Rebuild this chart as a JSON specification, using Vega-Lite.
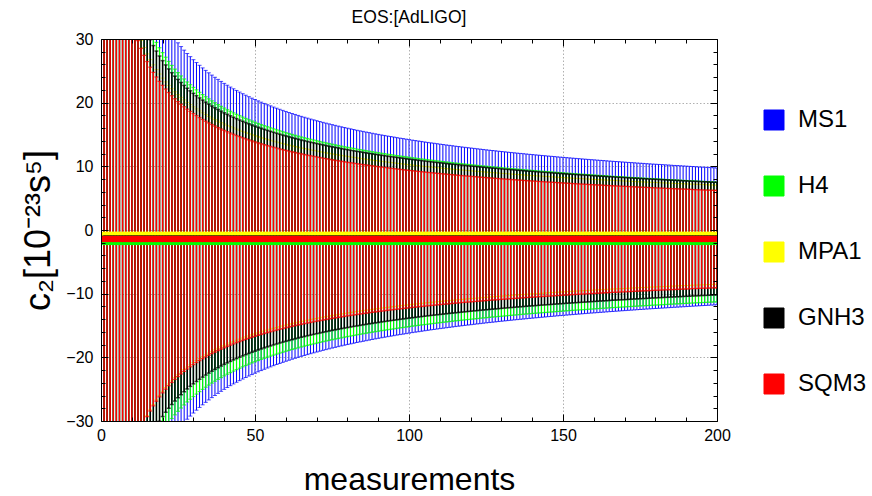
{
"$schema":"https://vega.github.io/schema/vega-lite/v6.json",
"width":616,"height":382,"autosize":"none",
"padding":{"left":101,"top":39,"right":155,"bottom":75},
"title":{"text":"EOS:[AdLIGO]","fontSize":17.5,"font":"Liberation Sans","fontWeight":"normal","color":"black","offset":5,"anchor":"middle"},
"config":{"view":{"stroke":null},"axis":{"labelFont":"Liberation Sans","titleFont":"Liberation Sans","labelColor":"black","titleColor":"black","tickColor":"black","domainColor":"black","titleFontWeight":"normal","labelFlush":false}},
"datasets":{
"ctr":[{"eos":"MS1","c":-1.0,"k":1},{"eos":"H4","c":-1.88,"k":2},{"eos":"MPA1","c":-0.74,"k":3},{"eos":"GNH3","c":-1.35,"k":4},{"eos":"SQM3","c":-1.43,"k":5}],
"w":[
{"n":1,"MS1":152,"H4":133,"MPA1":110,"GNH3":125,"SQM3":108},
{"n":2,"MS1":107.48,"H4":94.05,"MPA1":77.78,"GNH3":88.39,"SQM3":76.37},
{"n":3,"MS1":87.76,"H4":76.79,"MPA1":63.51,"GNH3":72.17,"SQM3":62.35},
{"n":4,"MS1":76,"H4":66.5,"MPA1":55,"GNH3":62.5,"SQM3":54},
{"n":5,"MS1":67.98,"H4":59.48,"MPA1":49.19,"GNH3":55.9,"SQM3":48.3},
{"n":6,"MS1":62.05,"H4":54.3,"MPA1":44.91,"GNH3":51.03,"SQM3":44.09},
{"n":7,"MS1":57.45,"H4":50.27,"MPA1":41.58,"GNH3":47.25,"SQM3":40.82},
{"n":8,"MS1":53.74,"H4":47.02,"MPA1":38.89,"GNH3":44.19,"SQM3":38.18},
{"n":9,"MS1":50.67,"H4":44.33,"MPA1":36.67,"GNH3":41.67,"SQM3":36},
{"n":10,"MS1":48.07,"H4":42.06,"MPA1":34.79,"GNH3":39.53,"SQM3":34.15},
{"n":11,"MS1":45.83,"H4":40.1,"MPA1":33.17,"GNH3":37.69,"SQM3":32.56},
{"n":12,"MS1":43.88,"H4":38.39,"MPA1":31.75,"GNH3":36.08,"SQM3":31.18},
{"n":13,"MS1":42.16,"H4":36.89,"MPA1":30.51,"GNH3":34.67,"SQM3":29.95},
{"n":14,"MS1":40.62,"H4":35.55,"MPA1":29.4,"GNH3":33.41,"SQM3":28.86},
{"n":15,"MS1":39.25,"H4":34.34,"MPA1":28.4,"GNH3":32.27,"SQM3":27.89},
{"n":16,"MS1":38,"H4":33.25,"MPA1":27.5,"GNH3":31.25,"SQM3":27},
{"n":17,"MS1":36.87,"H4":32.26,"MPA1":26.68,"GNH3":30.32,"SQM3":26.19},
{"n":18,"MS1":35.83,"H4":31.35,"MPA1":25.93,"GNH3":29.46,"SQM3":25.46},
{"n":19,"MS1":34.87,"H4":30.51,"MPA1":25.24,"GNH3":28.68,"SQM3":24.78},
{"n":20,"MS1":33.99,"H4":29.74,"MPA1":24.6,"GNH3":27.95,"SQM3":24.15},
{"n":21,"MS1":33.17,"H4":29.02,"MPA1":24,"GNH3":27.28,"SQM3":23.57},
{"n":22,"MS1":32.41,"H4":28.36,"MPA1":23.45,"GNH3":26.65,"SQM3":23.03},
{"n":23,"MS1":31.69,"H4":27.73,"MPA1":22.94,"GNH3":26.06,"SQM3":22.52},
{"n":24,"MS1":31.03,"H4":27.15,"MPA1":22.45,"GNH3":25.52,"SQM3":22.04},
{"n":25,"MS1":30.4,"H4":26.6,"MPA1":22,"GNH3":25,"SQM3":21.6},
{"n":26,"MS1":29.81,"H4":26.08,"MPA1":21.57,"GNH3":24.52,"SQM3":21.18},
{"n":27,"MS1":29.25,"H4":25.6,"MPA1":21.17,"GNH3":24.06,"SQM3":20.78},
{"n":28,"MS1":28.72,"H4":25.13,"MPA1":20.79,"GNH3":23.62,"SQM3":20.41},
{"n":29,"MS1":28.23,"H4":24.7,"MPA1":20.43,"GNH3":23.21,"SQM3":20.06},
{"n":30,"MS1":27.75,"H4":24.28,"MPA1":20.08,"GNH3":22.82,"SQM3":19.72},
{"n":31,"MS1":27.3,"H4":23.89,"MPA1":19.76,"GNH3":22.45,"SQM3":19.4},
{"n":32,"MS1":26.87,"H4":23.51,"MPA1":19.45,"GNH3":22.1,"SQM3":19.09},
{"n":33,"MS1":26.46,"H4":23.15,"MPA1":19.15,"GNH3":21.76,"SQM3":18.8},
{"n":34,"MS1":26.07,"H4":22.81,"MPA1":18.87,"GNH3":21.44,"SQM3":18.52},
{"n":35,"MS1":25.69,"H4":22.48,"MPA1":18.59,"GNH3":21.13,"SQM3":18.26},
{"n":36,"MS1":25.33,"H4":22.17,"MPA1":18.33,"GNH3":20.83,"SQM3":18},
{"n":37,"MS1":24.99,"H4":21.87,"MPA1":18.08,"GNH3":20.55,"SQM3":17.76},
{"n":38,"MS1":24.66,"H4":21.58,"MPA1":17.84,"GNH3":20.28,"SQM3":17.52},
{"n":39,"MS1":24.34,"H4":21.3,"MPA1":17.61,"GNH3":20.02,"SQM3":17.29},
{"n":40,"MS1":24.03,"H4":21.03,"MPA1":17.39,"GNH3":19.76,"SQM3":17.08},
{"n":41,"MS1":23.74,"H4":20.77,"MPA1":17.18,"GNH3":19.52,"SQM3":16.87},
{"n":42,"MS1":23.45,"H4":20.52,"MPA1":16.97,"GNH3":19.29,"SQM3":16.66},
{"n":43,"MS1":23.18,"H4":20.28,"MPA1":16.78,"GNH3":19.06,"SQM3":16.47},
{"n":44,"MS1":22.92,"H4":20.05,"MPA1":16.58,"GNH3":18.85,"SQM3":16.28},
{"n":45,"MS1":22.66,"H4":19.83,"MPA1":16.4,"GNH3":18.63,"SQM3":16.1},
{"n":46,"MS1":22.41,"H4":19.61,"MPA1":16.22,"GNH3":18.43,"SQM3":15.92},
{"n":47,"MS1":22.17,"H4":19.4,"MPA1":16.04,"GNH3":18.23,"SQM3":15.75},
{"n":48,"MS1":21.94,"H4":19.2,"MPA1":15.88,"GNH3":18.04,"SQM3":15.59},
{"n":49,"MS1":21.71,"H4":19,"MPA1":15.71,"GNH3":17.86,"SQM3":15.43},
{"n":50,"MS1":21.5,"H4":18.81,"MPA1":15.56,"GNH3":17.68,"SQM3":15.27},
{"n":51,"MS1":21.28,"H4":18.62,"MPA1":15.4,"GNH3":17.5,"SQM3":15.12},
{"n":52,"MS1":21.08,"H4":18.44,"MPA1":15.25,"GNH3":17.34,"SQM3":14.98},
{"n":53,"MS1":20.88,"H4":18.27,"MPA1":15.11,"GNH3":17.17,"SQM3":14.84},
{"n":54,"MS1":20.68,"H4":18.1,"MPA1":14.97,"GNH3":17.01,"SQM3":14.7},
{"n":55,"MS1":20.5,"H4":17.93,"MPA1":14.83,"GNH3":16.86,"SQM3":14.56},
{"n":56,"MS1":20.31,"H4":17.77,"MPA1":14.7,"GNH3":16.7,"SQM3":14.43},
{"n":57,"MS1":20.13,"H4":17.62,"MPA1":14.57,"GNH3":16.56,"SQM3":14.31},
{"n":58,"MS1":19.96,"H4":17.46,"MPA1":14.44,"GNH3":16.41,"SQM3":14.18},
{"n":59,"MS1":19.79,"H4":17.32,"MPA1":14.32,"GNH3":16.27,"SQM3":14.06},
{"n":60,"MS1":19.62,"H4":17.17,"MPA1":14.2,"GNH3":16.14,"SQM3":13.94},
{"n":61,"MS1":19.46,"H4":17.03,"MPA1":14.08,"GNH3":16.01,"SQM3":13.83},
{"n":62,"MS1":19.3,"H4":16.89,"MPA1":13.97,"GNH3":15.88,"SQM3":13.72},
{"n":63,"MS1":19.15,"H4":16.76,"MPA1":13.86,"GNH3":15.75,"SQM3":13.61},
{"n":64,"MS1":19,"H4":16.63,"MPA1":13.75,"GNH3":15.63,"SQM3":13.5},
{"n":65,"MS1":18.85,"H4":16.5,"MPA1":13.64,"GNH3":15.5,"SQM3":13.4},
{"n":66,"MS1":18.71,"H4":16.37,"MPA1":13.54,"GNH3":15.39,"SQM3":13.29},
{"n":67,"MS1":18.57,"H4":16.25,"MPA1":13.44,"GNH3":15.27,"SQM3":13.19},
{"n":68,"MS1":18.43,"H4":16.13,"MPA1":13.34,"GNH3":15.16,"SQM3":13.1},
{"n":69,"MS1":18.3,"H4":16.01,"MPA1":13.24,"GNH3":15.05,"SQM3":13},
{"n":70,"MS1":18.17,"H4":15.9,"MPA1":13.15,"GNH3":14.94,"SQM3":12.91},
{"n":71,"MS1":18.04,"H4":15.78,"MPA1":13.05,"GNH3":14.84,"SQM3":12.82},
{"n":72,"MS1":17.91,"H4":15.67,"MPA1":12.96,"GNH3":14.73,"SQM3":12.73},
{"n":73,"MS1":17.79,"H4":15.57,"MPA1":12.87,"GNH3":14.63,"SQM3":12.64},
{"n":74,"MS1":17.67,"H4":15.46,"MPA1":12.79,"GNH3":14.53,"SQM3":12.56},
{"n":75,"MS1":17.55,"H4":15.36,"MPA1":12.7,"GNH3":14.43,"SQM3":12.47},
{"n":76,"MS1":17.44,"H4":15.26,"MPA1":12.62,"GNH3":14.34,"SQM3":12.39},
{"n":77,"MS1":17.32,"H4":15.16,"MPA1":12.54,"GNH3":14.25,"SQM3":12.31},
{"n":78,"MS1":17.21,"H4":15.06,"MPA1":12.46,"GNH3":14.15,"SQM3":12.23},
{"n":79,"MS1":17.1,"H4":14.96,"MPA1":12.38,"GNH3":14.06,"SQM3":12.15},
{"n":80,"MS1":16.99,"H4":14.87,"MPA1":12.3,"GNH3":13.98,"SQM3":12.07},
{"n":81,"MS1":16.89,"H4":14.78,"MPA1":12.22,"GNH3":13.89,"SQM3":12},
{"n":82,"MS1":16.79,"H4":14.69,"MPA1":12.15,"GNH3":13.8,"SQM3":11.93},
{"n":83,"MS1":16.68,"H4":14.6,"MPA1":12.07,"GNH3":13.72,"SQM3":11.85},
{"n":84,"MS1":16.58,"H4":14.51,"MPA1":12,"GNH3":13.64,"SQM3":11.78},
{"n":85,"MS1":16.49,"H4":14.43,"MPA1":11.93,"GNH3":13.56,"SQM3":11.71},
{"n":86,"MS1":16.39,"H4":14.34,"MPA1":11.86,"GNH3":13.48,"SQM3":11.65},
{"n":87,"MS1":16.3,"H4":14.26,"MPA1":11.79,"GNH3":13.4,"SQM3":11.58},
{"n":88,"MS1":16.2,"H4":14.18,"MPA1":11.73,"GNH3":13.33,"SQM3":11.51},
{"n":89,"MS1":16.11,"H4":14.1,"MPA1":11.66,"GNH3":13.25,"SQM3":11.45},
{"n":90,"MS1":16.02,"H4":14.02,"MPA1":11.6,"GNH3":13.18,"SQM3":11.38},
{"n":91,"MS1":15.93,"H4":13.94,"MPA1":11.53,"GNH3":13.1,"SQM3":11.32},
{"n":92,"MS1":15.85,"H4":13.87,"MPA1":11.47,"GNH3":13.03,"SQM3":11.26},
{"n":93,"MS1":15.76,"H4":13.79,"MPA1":11.41,"GNH3":12.96,"SQM3":11.2},
{"n":94,"MS1":15.68,"H4":13.72,"MPA1":11.35,"GNH3":12.89,"SQM3":11.14},
{"n":95,"MS1":15.6,"H4":13.65,"MPA1":11.29,"GNH3":12.83,"SQM3":11.08},
{"n":96,"MS1":15.51,"H4":13.57,"MPA1":11.23,"GNH3":12.76,"SQM3":11.02},
{"n":97,"MS1":15.43,"H4":13.5,"MPA1":11.17,"GNH3":12.69,"SQM3":10.97},
{"n":98,"MS1":15.36,"H4":13.44,"MPA1":11.11,"GNH3":12.63,"SQM3":10.91},
{"n":99,"MS1":15.28,"H4":13.37,"MPA1":11.06,"GNH3":12.56,"SQM3":10.85},
{"n":100,"MS1":15.2,"H4":13.3,"MPA1":11,"GNH3":12.5,"SQM3":10.8},
{"n":101,"MS1":15.12,"H4":13.23,"MPA1":10.95,"GNH3":12.44,"SQM3":10.75},
{"n":102,"MS1":15.05,"H4":13.17,"MPA1":10.89,"GNH3":12.38,"SQM3":10.69},
{"n":103,"MS1":14.98,"H4":13.1,"MPA1":10.84,"GNH3":12.32,"SQM3":10.64},
{"n":104,"MS1":14.91,"H4":13.04,"MPA1":10.79,"GNH3":12.26,"SQM3":10.59},
{"n":105,"MS1":14.83,"H4":12.98,"MPA1":10.73,"GNH3":12.2,"SQM3":10.54},
{"n":106,"MS1":14.76,"H4":12.92,"MPA1":10.68,"GNH3":12.14,"SQM3":10.49},
{"n":107,"MS1":14.69,"H4":12.86,"MPA1":10.63,"GNH3":12.08,"SQM3":10.44},
{"n":108,"MS1":14.63,"H4":12.8,"MPA1":10.59,"GNH3":12.03,"SQM3":10.39},
{"n":109,"MS1":14.56,"H4":12.74,"MPA1":10.54,"GNH3":11.97,"SQM3":10.34},
{"n":110,"MS1":14.49,"H4":12.68,"MPA1":10.49,"GNH3":11.92,"SQM3":10.3},
{"n":111,"MS1":14.43,"H4":12.62,"MPA1":10.44,"GNH3":11.87,"SQM3":10.25},
{"n":112,"MS1":14.36,"H4":12.57,"MPA1":10.39,"GNH3":11.81,"SQM3":10.21},
{"n":113,"MS1":14.3,"H4":12.51,"MPA1":10.35,"GNH3":11.76,"SQM3":10.16},
{"n":114,"MS1":14.24,"H4":12.46,"MPA1":10.3,"GNH3":11.71,"SQM3":10.12},
{"n":115,"MS1":14.17,"H4":12.4,"MPA1":10.26,"GNH3":11.66,"SQM3":10.07},
{"n":116,"MS1":14.11,"H4":12.35,"MPA1":10.21,"GNH3":11.61,"SQM3":10.03},
{"n":117,"MS1":14.05,"H4":12.3,"MPA1":10.17,"GNH3":11.56,"SQM3":9.98},
{"n":118,"MS1":13.99,"H4":12.24,"MPA1":10.13,"GNH3":11.51,"SQM3":9.94},
{"n":119,"MS1":13.93,"H4":12.19,"MPA1":10.08,"GNH3":11.46,"SQM3":9.9},
{"n":120,"MS1":13.88,"H4":12.14,"MPA1":10.04,"GNH3":11.41,"SQM3":9.86},
{"n":121,"MS1":13.82,"H4":12.09,"MPA1":10,"GNH3":11.36,"SQM3":9.82},
{"n":122,"MS1":13.76,"H4":12.04,"MPA1":9.96,"GNH3":11.32,"SQM3":9.78},
{"n":123,"MS1":13.71,"H4":11.99,"MPA1":9.92,"GNH3":11.27,"SQM3":9.74},
{"n":124,"MS1":13.65,"H4":11.94,"MPA1":9.88,"GNH3":11.23,"SQM3":9.7},
{"n":125,"MS1":13.59,"H4":11.9,"MPA1":9.84,"GNH3":11.18,"SQM3":9.66},
{"n":126,"MS1":13.54,"H4":11.85,"MPA1":9.8,"GNH3":11.14,"SQM3":9.62},
{"n":127,"MS1":13.49,"H4":11.8,"MPA1":9.76,"GNH3":11.09,"SQM3":9.58},
{"n":128,"MS1":13.44,"H4":11.76,"MPA1":9.72,"GNH3":11.05,"SQM3":9.55},
{"n":129,"MS1":13.38,"H4":11.71,"MPA1":9.69,"GNH3":11.01,"SQM3":9.51},
{"n":130,"MS1":13.33,"H4":11.67,"MPA1":9.65,"GNH3":10.96,"SQM3":9.47},
{"n":131,"MS1":13.28,"H4":11.62,"MPA1":9.61,"GNH3":10.92,"SQM3":9.44},
{"n":132,"MS1":13.23,"H4":11.58,"MPA1":9.57,"GNH3":10.88,"SQM3":9.4},
{"n":133,"MS1":13.18,"H4":11.53,"MPA1":9.54,"GNH3":10.84,"SQM3":9.36},
{"n":134,"MS1":13.13,"H4":11.49,"MPA1":9.5,"GNH3":10.8,"SQM3":9.33},
{"n":135,"MS1":13.08,"H4":11.45,"MPA1":9.47,"GNH3":10.76,"SQM3":9.3},
{"n":136,"MS1":13.03,"H4":11.4,"MPA1":9.43,"GNH3":10.72,"SQM3":9.26},
{"n":137,"MS1":12.99,"H4":11.36,"MPA1":9.4,"GNH3":10.68,"SQM3":9.23},
{"n":138,"MS1":12.94,"H4":11.32,"MPA1":9.36,"GNH3":10.64,"SQM3":9.19},
{"n":139,"MS1":12.89,"H4":11.28,"MPA1":9.33,"GNH3":10.6,"SQM3":9.16},
{"n":140,"MS1":12.85,"H4":11.24,"MPA1":9.3,"GNH3":10.57,"SQM3":9.13},
{"n":141,"MS1":12.8,"H4":11.2,"MPA1":9.26,"GNH3":10.53,"SQM3":9.1},
{"n":142,"MS1":12.76,"H4":11.16,"MPA1":9.23,"GNH3":10.49,"SQM3":9.06},
{"n":143,"MS1":12.71,"H4":11.12,"MPA1":9.2,"GNH3":10.45,"SQM3":9.03},
{"n":144,"MS1":12.67,"H4":11.08,"MPA1":9.17,"GNH3":10.42,"SQM3":9},
{"n":145,"MS1":12.62,"H4":11.05,"MPA1":9.14,"GNH3":10.38,"SQM3":8.97},
{"n":146,"MS1":12.58,"H4":11.01,"MPA1":9.1,"GNH3":10.35,"SQM3":8.94},
{"n":147,"MS1":12.54,"H4":10.97,"MPA1":9.07,"GNH3":10.31,"SQM3":8.91},
{"n":148,"MS1":12.49,"H4":10.93,"MPA1":9.04,"GNH3":10.28,"SQM3":8.88},
{"n":149,"MS1":12.45,"H4":10.9,"MPA1":9.01,"GNH3":10.24,"SQM3":8.85},
{"n":150,"MS1":12.41,"H4":10.86,"MPA1":8.98,"GNH3":10.21,"SQM3":8.82},
{"n":151,"MS1":12.37,"H4":10.82,"MPA1":8.95,"GNH3":10.17,"SQM3":8.79},
{"n":152,"MS1":12.33,"H4":10.79,"MPA1":8.92,"GNH3":10.14,"SQM3":8.76},
{"n":153,"MS1":12.29,"H4":10.75,"MPA1":8.89,"GNH3":10.11,"SQM3":8.73},
{"n":154,"MS1":12.25,"H4":10.72,"MPA1":8.86,"GNH3":10.07,"SQM3":8.7},
{"n":155,"MS1":12.21,"H4":10.68,"MPA1":8.84,"GNH3":10.04,"SQM3":8.67},
{"n":156,"MS1":12.17,"H4":10.65,"MPA1":8.81,"GNH3":10.01,"SQM3":8.65},
{"n":157,"MS1":12.13,"H4":10.62,"MPA1":8.78,"GNH3":9.98,"SQM3":8.62},
{"n":158,"MS1":12.09,"H4":10.58,"MPA1":8.75,"GNH3":9.95,"SQM3":8.59},
{"n":159,"MS1":12.05,"H4":10.55,"MPA1":8.72,"GNH3":9.91,"SQM3":8.56},
{"n":160,"MS1":12.02,"H4":10.52,"MPA1":8.7,"GNH3":9.88,"SQM3":8.54},
{"n":161,"MS1":11.98,"H4":10.48,"MPA1":8.67,"GNH3":9.85,"SQM3":8.51},
{"n":162,"MS1":11.94,"H4":10.45,"MPA1":8.64,"GNH3":9.82,"SQM3":8.49},
{"n":163,"MS1":11.91,"H4":10.42,"MPA1":8.62,"GNH3":9.79,"SQM3":8.46},
{"n":164,"MS1":11.87,"H4":10.39,"MPA1":8.59,"GNH3":9.76,"SQM3":8.43},
{"n":165,"MS1":11.83,"H4":10.35,"MPA1":8.56,"GNH3":9.73,"SQM3":8.41},
{"n":166,"MS1":11.8,"H4":10.32,"MPA1":8.54,"GNH3":9.7,"SQM3":8.38},
{"n":167,"MS1":11.76,"H4":10.29,"MPA1":8.51,"GNH3":9.67,"SQM3":8.36},
{"n":168,"MS1":11.73,"H4":10.26,"MPA1":8.49,"GNH3":9.64,"SQM3":8.33},
{"n":169,"MS1":11.69,"H4":10.23,"MPA1":8.46,"GNH3":9.62,"SQM3":8.31},
{"n":170,"MS1":11.66,"H4":10.2,"MPA1":8.44,"GNH3":9.59,"SQM3":8.28},
{"n":171,"MS1":11.62,"H4":10.17,"MPA1":8.41,"GNH3":9.56,"SQM3":8.26},
{"n":172,"MS1":11.59,"H4":10.14,"MPA1":8.39,"GNH3":9.53,"SQM3":8.24},
{"n":173,"MS1":11.56,"H4":10.11,"MPA1":8.36,"GNH3":9.5,"SQM3":8.21},
{"n":174,"MS1":11.52,"H4":10.08,"MPA1":8.34,"GNH3":9.48,"SQM3":8.19},
{"n":175,"MS1":11.49,"H4":10.05,"MPA1":8.31,"GNH3":9.45,"SQM3":8.16},
{"n":176,"MS1":11.46,"H4":10.03,"MPA1":8.29,"GNH3":9.42,"SQM3":8.14},
{"n":177,"MS1":11.42,"H4":10,"MPA1":8.27,"GNH3":9.4,"SQM3":8.12},
{"n":178,"MS1":11.39,"H4":9.97,"MPA1":8.24,"GNH3":9.37,"SQM3":8.1},
{"n":179,"MS1":11.36,"H4":9.94,"MPA1":8.22,"GNH3":9.34,"SQM3":8.07},
{"n":180,"MS1":11.33,"H4":9.91,"MPA1":8.2,"GNH3":9.32,"SQM3":8.05},
{"n":181,"MS1":11.3,"H4":9.89,"MPA1":8.18,"GNH3":9.29,"SQM3":8.03},
{"n":182,"MS1":11.27,"H4":9.86,"MPA1":8.15,"GNH3":9.27,"SQM3":8.01},
{"n":183,"MS1":11.24,"H4":9.83,"MPA1":8.13,"GNH3":9.24,"SQM3":7.98},
{"n":184,"MS1":11.21,"H4":9.8,"MPA1":8.11,"GNH3":9.22,"SQM3":7.96},
{"n":185,"MS1":11.18,"H4":9.78,"MPA1":8.09,"GNH3":9.19,"SQM3":7.94},
{"n":186,"MS1":11.14,"H4":9.75,"MPA1":8.07,"GNH3":9.17,"SQM3":7.92},
{"n":187,"MS1":11.12,"H4":9.73,"MPA1":8.04,"GNH3":9.14,"SQM3":7.9},
{"n":188,"MS1":11.09,"H4":9.7,"MPA1":8.02,"GNH3":9.12,"SQM3":7.88},
{"n":189,"MS1":11.06,"H4":9.67,"MPA1":8,"GNH3":9.09,"SQM3":7.86},
{"n":190,"MS1":11.03,"H4":9.65,"MPA1":7.98,"GNH3":9.07,"SQM3":7.84},
{"n":191,"MS1":11,"H4":9.62,"MPA1":7.96,"GNH3":9.05,"SQM3":7.82},
{"n":192,"MS1":10.97,"H4":9.6,"MPA1":7.94,"GNH3":9.02,"SQM3":7.79},
{"n":193,"MS1":10.94,"H4":9.57,"MPA1":7.92,"GNH3":9,"SQM3":7.77},
{"n":194,"MS1":10.91,"H4":9.55,"MPA1":7.9,"GNH3":8.98,"SQM3":7.75},
{"n":195,"MS1":10.88,"H4":9.52,"MPA1":7.88,"GNH3":8.95,"SQM3":7.73},
{"n":196,"MS1":10.86,"H4":9.5,"MPA1":7.86,"GNH3":8.93,"SQM3":7.71},
{"n":197,"MS1":10.83,"H4":9.48,"MPA1":7.84,"GNH3":8.91,"SQM3":7.7},
{"n":198,"MS1":10.8,"H4":9.45,"MPA1":7.82,"GNH3":8.88,"SQM3":7.68},
{"n":199,"MS1":10.78,"H4":9.43,"MPA1":7.8,"GNH3":8.86,"SQM3":7.66},
{"n":200,"MS1":10.75,"H4":9.4,"MPA1":7.78,"GNH3":8.84,"SQM3":7.64}
]},
"data":{"name":"w"},
"transform":[
{"fold":["MS1","H4","MPA1","GNH3","SQM3"],"as":["eos","err"]},
{"lookup":"eos","from":{"data":{"name":"ctr"},"key":"eos","fields":["c","k"]}}
],
"encoding":{
"color":{"field":"eos","type":"nominal",
"scale":{"domain":["MS1","H4","MPA1","GNH3","SQM3"],"range":["#0000ff","#00ff00","#ffff00","#000000","#ff0000"]},
"legend":{"title":null,"orient":"none","legendX":661,"legendY":69,"symbolType":"square","symbolSize":400,"labelFontSize":24,"labelFont":"Liberation Sans","labelColor":"black","labelOffset":12,"rowPadding":42,"padding":0,
"encode":{"symbols":{"update":{"fill":{"scale":"color","field":"value"},"fillOpacity":{"value":1},"stroke":{"value":"rgba(0,0,0,0.3)"},"strokeWidth":{"value":1},"shape":{"value":"square"}}}}}}
},
"resolve":{"axis":{"x":"independent","y":"independent"}},
"layer":[
{"transform":[{"filter":{"field":"eos","equal":"MS1"}}],
"mark":{"type":"errorbar","ticks":{"size":4},"thickness":1,"clip":true},
"encoding":{
"x":{"field":"n","type":"quantitative","scale":{"domain":[0,200],"nice":false,"zero":false},
"axis":{"orient":"bottom","values":[0,50,100,150,200],"tickSize":-7,"labelPadding":13,"labelFontSize":16,"grid":false,"domain":true,"title":"measurements","titleFontSize":32,"titlePadding":21,"zindex":2}},
"y":{"field":"c","type":"quantitative","scale":{"domain":[-30,30],"nice":false,"zero":false},
"axis":{"orient":"left","values":[-30,-20,-10,0,10,20,30],"tickSize":-7,"labelPadding":15,"labelFontSize":16,"grid":false,"domain":true,"title":"c₂[10⁻²³s⁵]","titleFontSize":36,"titlePadding":8,"zindex":2}},
"yError":{"field":"err"}}},
{"transform":[{"filter":{"field":"eos","equal":"H4"}}],
"mark":{"type":"errorbar","ticks":{"size":4},"thickness":1.2,"clip":true},
"encoding":{
"x":{"field":"n","type":"quantitative","scale":{"domain":[0,200],"nice":false,"zero":false},
"axis":{"orient":"bottom","values":[10,20,30,40,60,70,80,90,110,120,130,140,160,170,180,190],"tickSize":-4,"labels":false,"grid":false,"domain":false,"title":null,"zindex":2}},
"y":{"field":"c","type":"quantitative","scale":{"domain":[-30,30],"nice":false,"zero":false},
"axis":{"orient":"left","values":[-28,-26,-24,-22,-18,-16,-14,-12,-8,-6,-4,-2,2,4,6,8,12,14,16,18,22,24,26,28],"tickSize":-4,"labels":false,"grid":false,"domain":false,"title":null,"zindex":2}},
"yError":{"field":"err"}}},
{"transform":[{"filter":{"field":"eos","equal":"MPA1"}}],
"mark":{"type":"errorbar","ticks":{"size":4},"thickness":1,"clip":true},
"encoding":{
"x":{"field":"n","type":"quantitative","scale":{"domain":[0,200],"nice":false,"zero":false},
"axis":{"orient":"top","values":[0,50,100,150,200],"tickSize":-7,"labels":false,"grid":false,"domain":true,"title":null,"zindex":2}},
"y":{"field":"c","type":"quantitative","scale":{"domain":[-30,30],"nice":false,"zero":false},
"axis":{"orient":"right","values":[-30,-20,-10,0,10,20,30],"tickSize":-7,"labels":false,"grid":false,"domain":true,"title":null,"zindex":2}},
"yError":{"field":"err"}}},
{"transform":[{"filter":{"field":"eos","equal":"GNH3"}}],
"mark":{"type":"errorbar","ticks":{"size":4},"thickness":1.5,"clip":true},
"encoding":{
"x":{"field":"n","type":"quantitative","scale":{"domain":[0,200],"nice":false,"zero":false},
"axis":{"orient":"top","values":[10,20,30,40,60,70,80,90,110,120,130,140,160,170,180,190],"tickSize":-4,"labels":false,"grid":false,"domain":false,"title":null,"zindex":2}},
"y":{"field":"c","type":"quantitative","scale":{"domain":[-30,30],"nice":false,"zero":false},
"axis":{"orient":"right","values":[-28,-26,-24,-22,-18,-16,-14,-12,-8,-6,-4,-2,2,4,6,8,12,14,16,18,22,24,26,28],"tickSize":-4,"labels":false,"grid":false,"domain":false,"title":null,"zindex":2}},
"yError":{"field":"err"}}},
{"transform":[{"filter":{"field":"eos","equal":"SQM3"}}],
"mark":{"type":"errorbar","ticks":{"size":4},"thickness":1.3,"clip":true},
"encoding":{
"x":{"field":"n","type":"quantitative","scale":{"domain":[0,200],"nice":false,"zero":false},
"axis":{"orient":"bottom","values":[50,100,150],"ticks":false,"labels":false,"grid":true,"gridColor":"#b0b0b0","gridDash":[1.5,2],"gridWidth":1,"domain":false,"title":null,"zindex":0}},
"y":{"field":"c","type":"quantitative","scale":{"domain":[-30,30],"nice":false,"zero":false},
"axis":{"orient":"left","values":[-20,-10,0,10,20],"ticks":false,"labels":false,"grid":true,"gridColor":"#b0b0b0","gridDash":[1.5,2],"gridWidth":1,"domain":false,"title":null,"zindex":0}},
"yError":{"field":"err"}}},
{"mark":{"type":"point","filled":true,"size":42,"opacity":1,"clip":true},
"encoding":{
"x":{"field":"n","type":"quantitative","scale":{"domain":[0,200],"nice":false,"zero":false},"axis":null},
"y":{"field":"c","type":"quantitative","scale":{"domain":[-30,30],"nice":false,"zero":false},"axis":null},
"order":{"field":"k","type":"quantitative"}}}
]
}
